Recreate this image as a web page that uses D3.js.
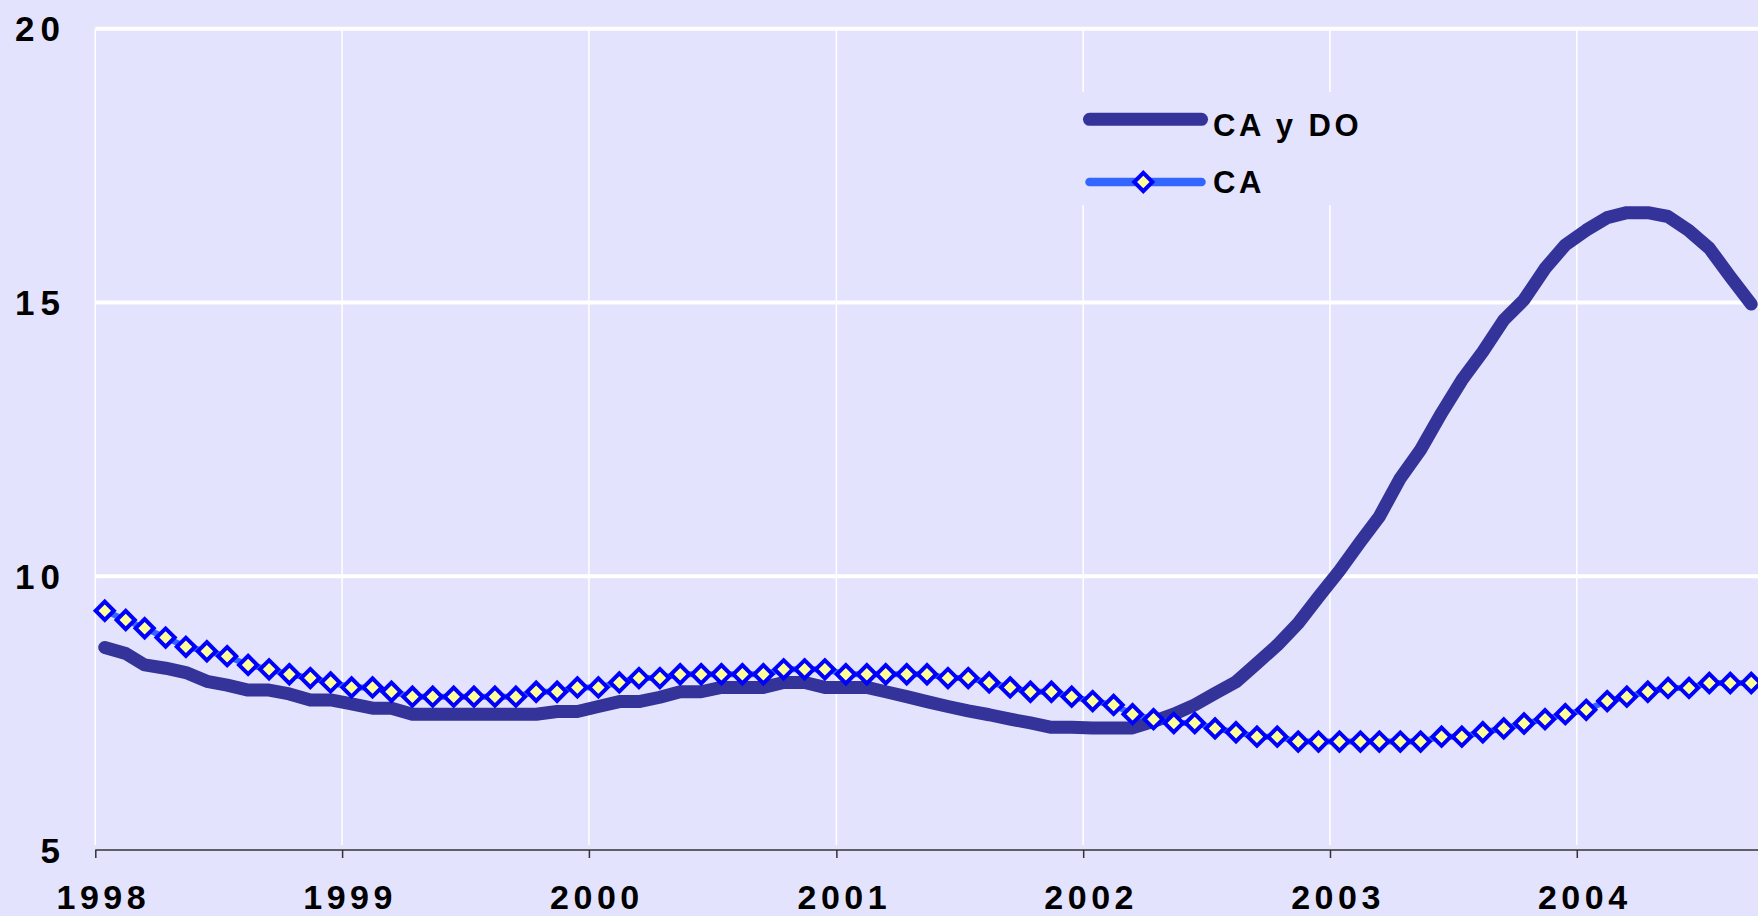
<!DOCTYPE html>
<html>
<head>
<meta charset="utf-8">
<script src="https://cdn.jsdelivr.net/npm/d3@7"></script>
<style>
  html, body { margin: 0; padding: 0; background: #E3E3FD; }
  svg { display: block; }
  text { font-family: "Liberation Sans", Arial, sans-serif; font-weight: bold; fill: #000; }
</style>
</head>
<body>
<script>
// ---- data (monthly, Jan 1998 – Sep 2004) ----
const startMonth = "1998-01";
const seriesNames = ["CA y DO", "CA"];
const caYDo = [
  8.70, 8.59, 8.38, 8.32, 8.24, 8.08, 8.01, 7.92, 7.92, 7.85, 7.74, 7.74,
  7.67, 7.59, 7.59, 7.48, 7.48, 7.48, 7.48, 7.48, 7.48, 7.48, 7.53, 7.53,
  7.62, 7.71, 7.71, 7.79, 7.89, 7.89, 7.97, 7.97, 7.97, 8.06, 8.06, 7.97,
  7.97, 7.97, 7.89, 7.80, 7.71, 7.62, 7.54, 7.47, 7.39, 7.32, 7.24, 7.24,
  7.23, 7.23, 7.23, 7.35, 7.48, 7.65, 7.86, 8.07, 8.41, 8.74, 9.14, 9.62,
  10.10, 10.63, 11.09, 11.79, 12.31, 12.98, 13.58, 14.10, 14.68, 15.05, 15.62, 16.05,
  16.32, 16.55, 16.64, 16.64, 16.57, 16.31, 15.99, 15.47, 14.97
];
const ca = [
  9.37, 9.20, 9.05, 8.88, 8.71, 8.63, 8.54, 8.38, 8.30, 8.21, 8.14, 8.06,
  7.97, 7.97, 7.89, 7.80, 7.80, 7.80, 7.80, 7.80, 7.80, 7.89, 7.89, 7.97,
  7.97, 8.06, 8.14, 8.14, 8.21, 8.21, 8.21, 8.21, 8.21, 8.30, 8.30, 8.30,
  8.21, 8.21, 8.21, 8.21, 8.21, 8.14, 8.14, 8.06, 7.97, 7.89, 7.89, 7.80,
  7.72, 7.65, 7.48, 7.39, 7.32, 7.32, 7.22, 7.15, 7.07, 7.07, 6.98, 6.98,
  6.98, 6.98, 6.98, 6.98, 6.98, 7.07, 7.07, 7.15, 7.22, 7.31, 7.39, 7.48,
  7.56, 7.72, 7.80, 7.89, 7.96, 7.96, 8.05, 8.05, 8.05
];
const yearLabels = ["1998", "1999", "2000", "2001", "2002", "2003", "2004"];
const yTicks = [5, 10, 15, 20];

// ---- layout ----
const W = 1758, H = 916;
const parse = d3.timeParse("%Y-%m-%d");
const start = d3.timeParse("%Y-%m")(startMonth);
const dates = caYDo.map((_, i) => d3.timeDay.offset(d3.timeMonth.offset(start, i), 14));

const x = d3.scaleTime()
  .domain([parse("1998-01-01"), parse("2004-09-25")])
  .range([95.3, 1758]);
const y = d3.scaleLinear().domain([5, 20]).range([850, 28.7]);

const svg = d3.select("body").append("svg").attr("width", W).attr("height", H);
svg.append("rect").attr("width", W).attr("height", H).attr("fill", "#E3E3FD");

const yearDates = yearLabels.map(s => parse(s + "-01-01"));

// vertical gridlines
svg.append("g").selectAll("line").data(yearDates).join("line")
  .attr("x1", d => x(d)).attr("x2", d => x(d))
  .attr("y1", y(20)).attr("y2", 845)
  .attr("stroke", "#FFFFFF").attr("stroke-width", 1.5);

// horizontal gridlines
svg.append("g").selectAll("line").data(yTicks.filter(v => v > 5)).join("line")
  .attr("x1", x.range()[0]).attr("x2", W)
  .attr("y1", d => y(d)).attr("y2", d => y(d))
  .attr("stroke", "#FFFFFF").attr("stroke-width", 4);

// legend background (hides gridlines)
svg.append("rect").attr("x", 1070).attr("y", 92).attr("width", 310).attr("height", 113)
  .attr("fill", "#E3E3FD");

// x axis
const xAxis = d3.axisBottom(x).tickValues(yearDates).tickSize(8).tickFormat("");
const gx = svg.append("g").attr("transform", `translate(0,${y(5)})`).call(xAxis);
gx.select(".domain").attr("stroke", "#333333").attr("stroke-width", 1.5).attr("d", `M${x.range()[0]},0H${W}`);
gx.selectAll(".tick line").attr("stroke", "#333333").attr("stroke-width", 1.5);

svg.append("g").selectAll("text").data(yearLabels).join("text")
  .attr("x", (d, i) => x(yearDates[i]) + 8)
  .attr("y", 909)
  .attr("text-anchor", "middle")
  .attr("font-size", 34)
  .attr("letter-spacing", 4.5)
  .text(d => d);

// y labels
svg.append("g").selectAll("text").data(yTicks).join("text")
  .attr("x", 66)
  .attr("y", d => y(d) + 12.5)
  .attr("text-anchor", "end")
  .attr("font-size", 35)
  .attr("letter-spacing", 6)
  .text(d => d);

// lines
const lineGen = vals => d3.line().x((d, i) => x(dates[i])).y(d => y(d))(vals);

svg.append("path").attr("d", lineGen(caYDo))
  .attr("fill", "none").attr("stroke", "#333399").attr("stroke-width", 13)
  .attr("stroke-linejoin", "round").attr("stroke-linecap", "round");

svg.append("path").attr("d", lineGen(ca))
  .attr("fill", "none").attr("stroke", "#3366FF").attr("stroke-width", 6)
  .attr("stroke-linejoin", "round").attr("stroke-linecap", "round");

const diamond = d3.symbol(d3.symbolSquare, 165)();
svg.append("g").selectAll("path").data(ca).join("path")
  .attr("d", diamond)
  .attr("transform", (d, i) => `translate(${x(dates[i])},${y(d)}) rotate(45)`)
  .attr("fill", "#FFFF99").attr("stroke", "#0000FF").attr("stroke-width", 4);

// legend
const lg = svg.append("g");
lg.append("line").attr("x1", 1089.5).attr("x2", 1201.5).attr("y1", 119.3).attr("y2", 119.3)
  .attr("stroke", "#333399").attr("stroke-width", 13).attr("stroke-linecap", "round");
lg.append("text").attr("x", 1213).attr("y", 136).attr("font-size", 31).attr("letter-spacing", 3.5).text(seriesNames[0]);
lg.append("line").attr("x1", 1089.5).attr("x2", 1201.5).attr("y1", 182).attr("y2", 182)
  .attr("stroke", "#3366FF").attr("stroke-width", 8.5).attr("stroke-linecap", "round");
lg.append("path").attr("d", diamond).attr("transform", "translate(1143.3,182) rotate(45)")
  .attr("fill", "#FFFF99").attr("stroke", "#0000FF").attr("stroke-width", 4);
lg.append("text").attr("x", 1213).attr("y", 193.3).attr("font-size", 31).attr("letter-spacing", 3.5).text(seriesNames[1]);
</script>
</body>
</html>
